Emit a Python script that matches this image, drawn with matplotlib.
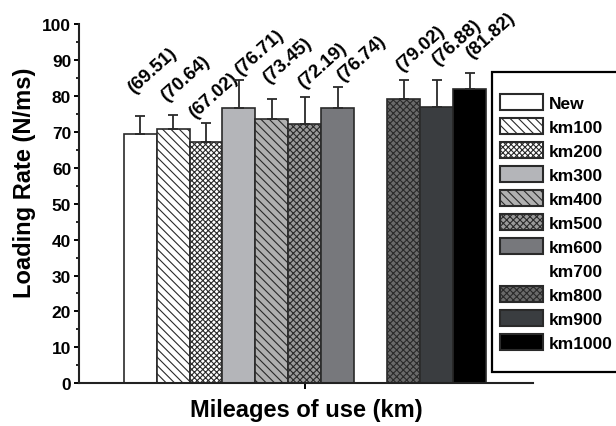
import numpy as np
import matplotlib
matplotlib.use("Agg")
import matplotlib.pyplot as plt
from matplotlib.patches import Rectangle

plt.rcParams['font.family'] = ['Liberation Sans', 'DejaVu Sans']
plt.rcParams['font.weight'] = 'bold'
plt.rcParams['hatch.linewidth'] = 0.8

# 資料 (km700 無資料)
groups = ['New', 'km100', 'km200', 'km300', 'km400', 'km500',
          'km600', 'km700', 'km800', 'km900', 'km1000']
rates = [69.51, 70.64, 67.02, 76.71, 73.45, 72.19, 76.74, np.nan, 79.02, 76.88, 81.82]
errs = [4.8, 4.0, 5.4, 7.8, 5.6, 7.6, 5.7, np.nan, 5.5, 7.6, 4.4]
value_labels = ['(69.51)', '(70.64)', '(67.02)', '(76.71)', '(73.45)', '(72.19)',
                '(76.74)', '', '(79.02)', '(76.88)', '(81.82)']

# 樣式
faces = ['white', 'white', 'white', '#b4b5b9', '#b0b0b0', '#9a9a9a',
         '#77787c', 'none', '#6a6a6a', '#3a3d40', 'black']
hatches = [None, '\\\\\\\\', 'xxxxxx', None, '\\\\\\\\', 'xxxxx',
           None, None, 'xxxxx', None, None]
# 標籤微調 (px): 相對誤差棒頂端
nudges = [(-4, 20), (-4, 11), (-9, 2), (4, 2), (-1, 13), (1, 6),
          (7, 3), (0, 0), (0, 6), (3, 12), (5, 12)]

fig = plt.figure(figsize=(6.16, 4.27), dpi=100)
ax = fig.add_axes([0.128, 0.100, 0.737, 0.8415])

x = np.arange(len(groups))
for i in range(len(groups)):
    empty = np.isnan(rates[i])
    h = 0 if empty else rates[i]
    ax.bar(x[i], h, width=1.0, color=faces[i], hatch=hatches[i],
           edgecolor='none' if empty else '#2a2a2a', linewidth=0 if empty else 1.2,
           label=groups[i], zorder=2)
    if not empty:
        ax.errorbar(x[i], rates[i], yerr=[[0], [errs[i]]], fmt='none',
                    ecolor='#2a2a2a', elinewidth=1.3, capsize=3.5, capthick=1.3, zorder=3)
        ax.annotate(value_labels[i], xy=(x[i], rates[i] + errs[i]),
                    xytext=(nudges[i][0] * 0.72, nudges[i][1] * 0.72),
                    textcoords='offset points', rotation=42, rotation_mode='anchor',
                    ha='left', va='bottom', fontsize=13.5, fontweight='bold')

ax.set_xlim(-1.86, 11.92)
ax.set_ylim(0, 100)
ax.set_yticks(np.arange(0, 101, 10))
ax.set_yticks(np.arange(5, 100, 10), minor=True)
ax.set_xticks([5])
ax.set_xticklabels([''])
ax.tick_params(axis='y', which='major', direction='out', length=3.5, width=1.4,
               labelsize=12.5, pad=2)
ax.tick_params(axis='y', which='minor', direction='out', length=2.2, width=1.2)
ax.tick_params(axis='x', direction='out', length=4, width=1.4)
for lab in ax.get_yticklabels():
    lab.set_fontweight('bold')

for side in ['top', 'right']:
    ax.spines[side].set_visible(False)
for side in ['left', 'bottom']:
    ax.spines[side].set_linewidth(1.5)
    ax.spines[side].set_color('#222222')

ax.set_xlabel('Mileages of use (km)', fontsize=17, fontweight='bold')
ax.set_ylabel('Loading Rate (N/ms)', fontsize=17, fontweight='bold')
ax.xaxis.set_label_coords(0.502, -0.041)
ax.yaxis.set_label_coords(-0.095, 0.5617)

leg = ax.legend(loc='upper left', bbox_to_anchor=(500 / 616, 1 - 95 / 427),
                bbox_transform=fig.transFigure, frameon=False, fontsize=12.5,
                handlelength=2.45, handleheight=1.0, labelspacing=0.42,
                handletextpad=0.35, borderpad=0, borderaxespad=0)
for t in leg.get_texts():
    t.set_fontweight('bold')
for hd in leg.legend_handles:
    if hd.get_facecolor()[3] > 0:
        hd.set_edgecolor('#2a2a2a')
        hd.set_linewidth(1.5)
leg.set_zorder(6)

frame = Rectangle((492 / 616, 1 - 373 / 427), 0.3, 300 / 427,
                  transform=fig.transFigure, facecolor='white',
                  edgecolor='black', linewidth=1.6, zorder=5, clip_on=False)
ax.add_patch(frame)

fig.savefig('out.png', dpi=100)
